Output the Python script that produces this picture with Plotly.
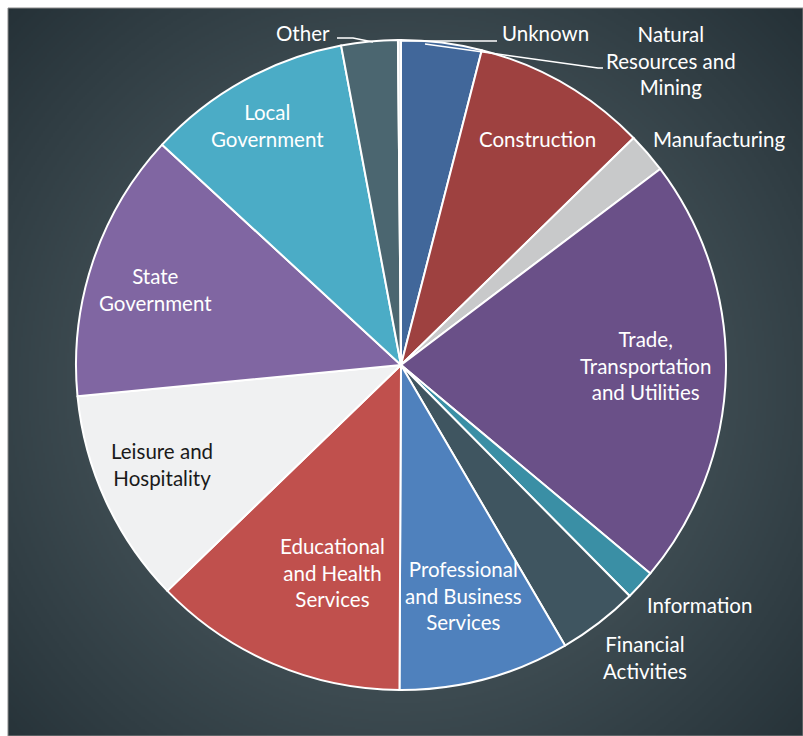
import base64
import struct
import zlib

import numpy as np
import plotly.graph_objects as go

# Employment share by industry (percent)
industries = [
    "Natural Resources and Mining",
    "Construction",
    "Manufacturing",
    "Trade, Transportation and Utilities",
    "Information",
    "Financial Activities",
    "Professional and Business Services",
    "Educational and Health Services",
    "Leisure and Hospitality",
    "State Government",
    "Local Government",
    "Other",
    "Unknown",
]
shares = [4.0, 8.7, 2.0, 21.4, 1.5, 4.0, 8.5, 12.7, 10.7, 13.4, 10.2, 2.8, 0.15]

slice_colors = [
    "#41679A", "#9E4140", "#C8C9CA", "#6A5088", "#3A8FA5", "#3F5560",
    "#4F81BD", "#C0504D", "#F0F1F2", "#8066A2", "#4BACC6", "#4B6670",
    "#E6E8EA",
]

W, H = 803, 736
CX, CY, R = 401, 365, 325  # pie centre and radius in pixels


def px(x, y):
    """Pixel position (from top-left) to paper coordinates."""
    return x / W, 1 - y / H


# ---- radial gradient backdrop, encoded as a PNG in memory ----
def png_data_uri(rgb):
    h, w, _ = rgb.shape
    raw = b"".join(b"\x00" + rgb[i].tobytes() for i in range(h))

    def chunk(tag, data):
        body = tag + data
        return struct.pack(">I", len(data)) + body + struct.pack(">I", zlib.crc32(body) & 0xFFFFFFFF)

    png = (b"\x89PNG\r\n\x1a\n"
           + chunk(b"IHDR", struct.pack(">IIBBBBB", w, h, 8, 2, 0, 0, 0))
           + chunk(b"IDAT", zlib.compress(raw, 9))
           + chunk(b"IEND", b""))
    return "data:image/png;base64," + base64.b64encode(png).decode()


FX0, FY0 = 8, 8
fw, fh = W - FX0, H - FY0
scale = 2
gw, gh = fw // scale, fh // scale
yy, xx = np.mgrid[0:gh, 0:gw].astype(float)
gx, gy = (CX - FX0) / scale, (CY + 20 - FY0) / scale
dist = np.hypot(xx - gx, yy - gy) / (560 / scale)
t = np.clip(dist, 0, 1) ** 1.1
inner = np.array([0x58, 0x68, 0x6E], float)
outer = np.array([0x24, 0x30, 0x36], float)
grad = (inner[None, None, :] * (1 - t[..., None]) + outer[None, None, :] * t[..., None]).astype(np.uint8)
bg_uri = png_data_uri(np.ascontiguousarray(grad))

fig = go.Figure()

dx0, dx1 = (CX - R) / W, (CX + R) / W
dy0, dy1 = 1 - (CY + R) / H, 1 - (CY - R) / H
fig.add_trace(go.Pie(
    labels=industries,
    values=shares,
    sort=False,
    direction="clockwise",
    rotation=0,
    marker=dict(colors=slice_colors, line=dict(color="white", width=2)),
    textinfo="none",
    hoverinfo="label+percent",
    showlegend=False,
    domain=dict(x=[dx0, dx1], y=[dy0, dy1]),
))

# Label text and placement (pixel centres)
label_text = {
    "Natural Resources and Mining": "Natural<br>Resources and<br>Mining",
    "Construction": "Construction",
    "Manufacturing": "Manufacturing",
    "Trade, Transportation and Utilities": "Trade,<br>Transportation<br>and Utilities",
    "Information": "Information",
    "Financial Activities": "Financial<br>Activities",
    "Professional and Business Services": "Professional<br>and Business<br>Services",
    "Educational and Health Services": "Educational<br>and Health<br>Services",
    "Leisure and Hospitality": "Leisure and<br>Hospitality",
    "State Government": "State<br>Government",
    "Local Government": "Local<br>Government",
    "Other": "Other",
    "Unknown": "Unknown",
}
label_pos = {
    "Natural Resources and Mining": (671, 61),
    "Construction": (537, 139),
    "Manufacturing": (719, 139),
    "Trade, Transportation and Utilities": (645, 365),
    "Information": (699, 605),
    "Financial Activities": (645, 657),
    "Professional and Business Services": (463, 595),
    "Educational and Health Services": (332, 572),
    "Leisure and Hospitality": (162, 465),
    "State Government": (155, 289),
    "Local Government": (267, 125),
    "Other": (303, 33),
    "Unknown": (545, 33),
}
dark_text = {"Leisure and Hospitality"}

annotations = []
for name in industries:
    x, y = px(*label_pos[name])
    annotations.append(dict(
        x=x, y=y, xref="paper", yref="paper", xanchor="center", yanchor="middle",
        text=label_text[name], showarrow=False, align="center",
        font=dict(family="Lato, Calibri, sans-serif", size=20.5,
                  color="#1a1a1a" if name in dark_text else "white"),
    ))

# Leader lines for the small outer slices
leaders = [
    [(337, 38), (353, 38), (373, 42)],
    [(400, 41), (497, 41)],
    [(425, 44), (598, 68), (603, 68)],
]
shapes = [dict(type="rect", xref="paper", yref="paper",
               x0=FX0 / W, x1=1.0, y0=0.0, y1=1 - FY0 / H,
               line=dict(color="#8a8a8a", width=1), layer="below")]
for pts in leaders:
    path = "M " + " L ".join(f"{px(x, y)[0]:.5f},{px(x, y)[1]:.5f}" for x, y in pts)
    shapes.append(dict(type="path", xref="paper", yref="paper", path=path,
                       line=dict(color="white", width=1.5)))

fig.update_layout(
    width=W, height=H,
    margin=dict(l=0, r=0, t=0, b=0),
    paper_bgcolor="white",
    plot_bgcolor="white",
    annotations=annotations,
    shapes=shapes,
    images=[dict(source=bg_uri, xref="paper", yref="paper",
                 x=FX0 / W, y=1 - FY0 / H, sizex=fw / W, sizey=fh / H,
                 xanchor="left", yanchor="top", sizing="stretch", layer="below")],
)

fig.write_html("out.html")
